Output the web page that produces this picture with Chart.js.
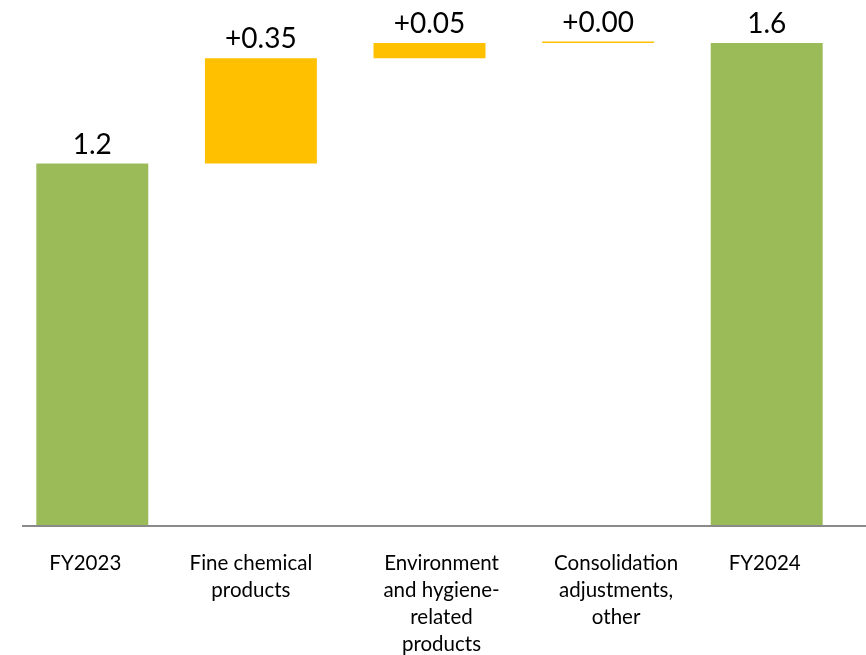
<!DOCTYPE html>
<html>
<head>
<meta charset="utf-8">
<script src="https://cdn.jsdelivr.net/npm/chart.js@4/dist/chart.umd.min.js"></script>
<style>
  body { margin: 0; background: #fff; }
  #wrap { width: 866px; height: 655px; }
</style>
</head>
<body>
<div id="wrap"><canvas id="chart" width="866" height="655"></canvas></div>
<script>
const categories = [
  'FY2023',
  ['Fine chemical', 'products'],
  ['Environment', 'and hygiene-', 'related', 'products'],
  ['Consolidation', 'adjustments,', 'other'],
  'FY2024'
];
const values = [1.2, 0.35, 0.05, 0.00, 1.6];
const isTotal = [true, false, false, false, true];

const green = '#9BBB59';
const yellow = '#FFC000';
// category text boxes sit a little off the bar centres in the original slide
const labelShift = [-7, -10, 12, 18, -2];

// floating ranges for the waterfall
let running = 0;
const ranges = values.map((v, i) => {
  if (isTotal[i]) { running = v; return [0, v]; }
  const r = [running, running + v];
  running += v;
  return r;
});

const valueLabels = {
  id: 'valueLabels',
  afterDatasetsDraw(chart) {
    const ctx = chart.ctx;
    const meta = chart.getDatasetMeta(0);
    ctx.save();
    ctx.font = '28px Lato';
    ctx.fillStyle = '#000';
    ctx.textAlign = 'center';
    ctx.textBaseline = 'alphabetic';
    meta.data.forEach((bar, i) => {
      const v = values[i];
      const txt = isTotal[i] ? v.toFixed(1) : '+' + v.toFixed(2);
      const top = Math.min(bar.y, bar.base);
      ctx.fillText(txt, bar.x, top - 10);
    });
    ctx.restore();
  }
};

const categoryLabels = {
  id: 'categoryLabels',
  afterDraw(chart) {
    const ctx = chart.ctx;
    const x = chart.scales.x;
    const y0 = chart.chartArea.bottom + 38;
    ctx.save();
    ctx.font = '20.5px Lato';
    ctx.fillStyle = '#000';
    ctx.textAlign = 'center';
    ctx.textBaseline = 'middle';
    categories.forEach((lab, i) => {
      const lines = Array.isArray(lab) ? lab : [lab];
      const cx = x.getPixelForValue(i) + labelShift[i];
      lines.forEach((ln, k) => ctx.fillText(ln, cx, y0 + k * 27));
    });
    ctx.restore();
  }
};

const baseLine = {
  id: 'baseLine',
  afterDatasetsDraw(chart) {
    const ctx = chart.ctx;
    const y = chart.scales.y.getPixelForValue(0);
    ctx.save();
    ctx.strokeStyle = '#8a8a8a';
    ctx.lineWidth = 2;
    ctx.beginPath();
    ctx.moveTo(22, y + 1);
    ctx.lineTo(chart.width, y + 1);
    ctx.stroke();
    ctx.restore();
  }
};

new Chart(document.getElementById('chart'), {
  type: 'bar',
  data: {
    labels: categories,
    datasets: [{
      data: ranges,
      backgroundColor: isTotal.map(t => t ? green : yellow),
      borderWidth: 0,
      borderSkipped: false,
      minBarLength: 1.5,
      barPercentage: 0.664,
      categoryPercentage: 1
    }]
  },
  options: {
    responsive: false,
    animation: false,
    layout: { padding: { left: 8, right: 15, top: 0, bottom: 0 } },
    plugins: {
      legend: { display: false },
      tooltip: { enabled: false }
    },
    scales: {
      x: {
        grid: { display: false, drawTicks: false },
        border: { display: false },
        afterFit: scale => { scale.height = 130; },
        ticks: { display: false }
      },
      y: {
        display: false,
        min: 0,
        max: 1.743
      }
    }
  },
  plugins: [valueLabels, categoryLabels, baseLine]
});
</script>
</body>
</html>
